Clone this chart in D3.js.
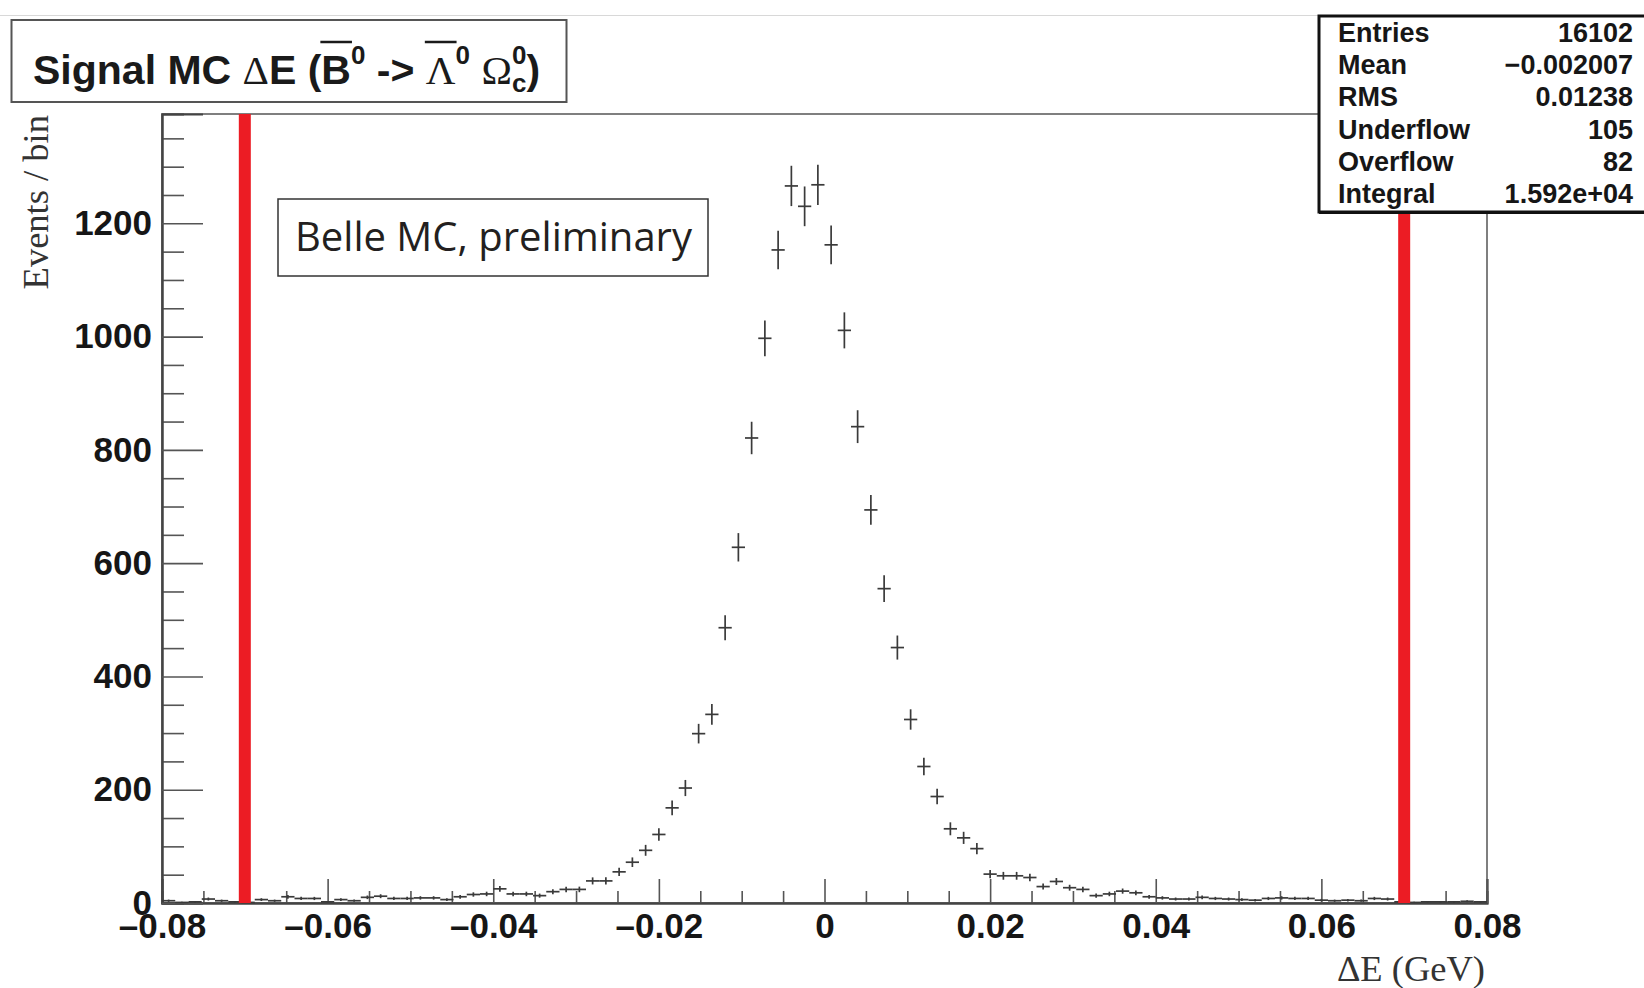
<!DOCTYPE html>
<html>
<head>
<meta charset="utf-8">
<script src="https://cdn.jsdelivr.net/npm/d3@7"></script>
<style>
  body { margin: 0; background: #fff; }
  svg { display: block; }
</style>
</head>
<body>
<svg id="chart" width="1644" height="988"></svg>
<script>
const binStart = -0.08;
const binWidth = 0.0016;
const counts = [
    4, 1, 2, 7, 4, 2, 1, 6, 4, 11,
    8, 8, 2, 6, 4, 10, 12, 8, 8, 9,
    9, 6, 11, 15, 16, 25, 16, 16, 13, 20,
    24, 24, 39, 39, 55, 72, 93, 121, 168, 203,
    299, 333, 486, 628, 821, 997, 1153, 1266, 1230, 1268,
    1162, 1011, 841, 694, 555, 451, 324, 241, 188, 131,
    115, 96, 51, 48, 48, 45, 29, 38, 27, 24,
    13, 16, 21, 18, 11, 9, 7, 7, 10, 8,
    7, 6, 5, 8, 9, 8, 8, 5, 4, 5,
    4, 8, 7, 2, 1, 2, 2, 2, 3, 2
];
const cutValues = [-0.07, 0.07];
const xMajor = [-0.08, -0.06, -0.04, -0.02, 0, 0.02, 0.04, 0.06, 0.08];
const yMajor = [0, 200, 400, 600, 800, 1000, 1200];
const statLabels = ['Entries', 'Mean', 'RMS', 'Underflow', 'Overflow', 'Integral'];
const statValues = ['16102', '\u22120.002007', '0.01238', '105', '82', '1.592e+04'];

const svg = d3.select('#chart');
const frame = { left: 162, right: 1487, top: 114, bottom: 903 };
const sans = '"Liberation Sans", Arial, Helvetica, sans-serif';
const serif = '"Liberation Serif", "Times New Roman", serif';

svg.append('rect').attr('width', 1644).attr('height', 988).attr('fill', '#fff');
svg.append('line')
    .attr('x1', 0).attr('x2', 1644).attr('y1', 15.5).attr('y2', 15.5)
    .attr('stroke', '#d8d8d8').attr('stroke-width', 1);

// ---- Escalas
const mapX = d3.scaleLinear().domain([-0.08, 0.08]).range([frame.left, frame.right]);
const mapY = d3.scaleLinear().domain([0, 1393]).range([frame.bottom, frame.top]);

// ---- Moldura
svg.append('rect')
    .attr('x', frame.left).attr('y', frame.top)
    .attr('width', frame.right - frame.left).attr('height', frame.bottom - frame.top)
    .attr('fill', 'none').attr('stroke', '#555').attr('stroke-width', 1.5);

// ---- Eixos
const xMinor = d3.range(-0.08, 0.0801, 0.005).filter(v => xMajor.every(m => Math.abs(m - v) > 1e-6));
const yMinor = d3.range(0, 1393, 50).filter(v => v % 200 !== 0);
const fmtX = d => Math.abs(d) < 1e-9 ? '0' : (d < 0 ? '\u2013' : '') + Math.abs(d).toFixed(2);

svg.append('g')
    .attr('transform', `translate(0, ${frame.bottom})`)
    .call(d3.axisBottom(mapX).tickValues(xMinor).tickSize(-12).tickFormat(''));
svg.append('g')
    .attr('class', 'xaxis')
    .attr('transform', `translate(0, ${frame.bottom})`)
    .call(d3.axisBottom(mapX).tickValues(xMajor).tickSize(-24).tickPadding(10).tickFormat(fmtX));

svg.append('g')
    .attr('transform', `translate(${frame.left}, 0)`)
    .call(d3.axisLeft(mapY).tickValues(yMinor).tickSize(-22).tickFormat(''));
svg.append('g')
    .attr('class', 'yaxis')
    .attr('transform', `translate(${frame.left}, 0)`)
    .call(d3.axisLeft(mapY).tickValues(yMajor).tickSize(-41).tickPadding(10).tickFormat(d3.format('d')));

svg.selectAll('.domain').attr('stroke', '#444').attr('stroke-width', 2);
svg.selectAll('.tick line').attr('stroke', '#555').attr('stroke-width', 1.6);
svg.selectAll('.xaxis text, .yaxis text')
    .attr('font-family', sans).attr('font-weight', 'bold')
    .attr('font-size', 35).attr('fill', '#161616');

// ---- Histograma (barras de erro)
const bins = counts.map((c, i) => ({
    lo: binStart + i * binWidth,
    hi: binStart + (i + 1) * binWidth,
    mid: binStart + (i + 0.5) * binWidth,
    n: c
}));
const hist = svg.append('g').attr('stroke', '#3a3a3a').attr('stroke-width', 1.7);
hist.selectAll('line.h').data(bins).join('line')
    .attr('class', 'h')
    .attr('x1', d => mapX(d.lo)).attr('x2', d => mapX(d.hi))
    .attr('y1', d => mapY(d.n)).attr('y2', d => mapY(d.n));
hist.selectAll('line.v').data(bins).join('line')
    .attr('class', 'v')
    .attr('x1', d => mapX(d.mid)).attr('x2', d => mapX(d.mid))
    .attr('y1', d => mapY(Math.max(0, d.n - Math.sqrt(d.n))))
    .attr('y2', d => mapY(d.n + Math.sqrt(d.n)));

// ---- Linhas de corte
svg.selectAll('rect.cut').data(cutValues).join('rect')
    .attr('class', 'cut')
    .attr('x', d => mapX(d) - 6).attr('width', 12)
    .attr('y', frame.top).attr('height', frame.bottom - frame.top)
    .attr('fill', '#ec1c24');

// ---- Titulos dos eixos
svg.append('text')
    .attr('transform', 'translate(48, 115) rotate(-90)')
    .attr('text-anchor', 'end')
    .attr('font-family', serif).attr('font-size', 36.5).attr('fill', '#333')
    .text('Events / bin');
svg.append('text')
    .attr('x', 1485).attr('y', 981)
    .attr('text-anchor', 'end')
    .attr('font-family', serif).attr('font-size', 36.5).attr('fill', '#333')
    .text('\u0394E (GeV)');

// ---- Caixa do titulo
svg.append('rect')
    .attr('x', 11.5).attr('y', 20).attr('width', 555).attr('height', 82)
    .attr('fill', '#fff').attr('stroke', '#555').attr('stroke-width', 2);

const titleParts = [
    { t: 'Signal MC ', f: sans },
    { t: '\u0394', f: serif },
    { t: 'E (', f: sans },
    { t: 'B', f: sans, over: true },
    { t: '0', f: sans, sup: true },
    { t: ' -> ', f: sans },
    { t: '\u039B', f: serif, over: true },
    { t: '0', f: sans, sup: true },
    { t: ' ', f: sans },
    { t: '\u03A9', f: serif },
    { t: '0', f: sans, sup: true, stack: 'c' },
    { t: ')', f: sans }
];
const tg = svg.append('g').attr('fill', '#1a1a1a').style('white-space', 'pre');
const base = 84;
let cx = 33;
titleParts.forEach(p => {
    const size = p.sup ? 26 : 41;
    const y = p.sup ? base - 20 : base;
    const t = tg.append('text')
        .attr('x', cx).attr('y', y)
        .attr('xml:space', 'preserve')
        .style('white-space', 'pre')
        .attr('font-family', p.f).attr('font-weight', p.f === sans ? 'bold' : 'normal')
        .attr('font-size', size).text(p.t);
    let w = t.node().getComputedTextLength();
    if (p.stack) {
        const s = tg.append('text')
            .attr('x', cx).attr('y', base + 8)
            .attr('font-family', sans).attr('font-weight', 'bold')
            .attr('font-size', 26).text(p.stack);
        w = Math.max(w, s.node().getComputedTextLength());
    }
    if (p.over) {
        tg.append('line')
            .attr('x1', cx - 1).attr('x2', cx + w + 1)
            .attr('y1', 42).attr('y2', 42)
            .attr('stroke', '#1a1a1a').attr('stroke-width', 2.5);
    }
    cx += w;
});

// ---- Legenda Belle
svg.append('rect')
    .attr('x', 278).attr('y', 199).attr('width', 430).attr('height', 77)
    .attr('fill', '#fff').attr('stroke', '#333').attr('stroke-width', 1.5);
svg.append('text')
    .attr('x', 295).attr('y', 251)
    .attr('font-family', '"Open Sans", "Noto Sans", sans-serif')
    .attr('font-size', 40).attr('fill', '#231f20')
    .attr('textLength', 397).attr('lengthAdjust', 'spacingAndGlyphs')
    .text('Belle MC, preliminary');

// ---- Caixa de estatisticas
const stats = svg.append('g');
stats.append('rect')
    .attr('x', 1319).attr('y', 16).attr('width', 340).attr('height', 196)
    .attr('fill', '#fff').attr('stroke', '#111').attr('stroke-width', 3);
stats.append('line')
    .attr('x1', 1319).attr('x2', 1644).attr('y1', 213).attr('y2', 213)
    .attr('stroke', '#111').attr('stroke-width', 2);
stats.selectAll('text.lab').data(statLabels).join('text')
    .attr('class', 'lab')
    .attr('x', 1338).attr('y', (d, i) => 42 + i * 32.2)
    .attr('font-family', sans).attr('font-weight', 'bold').attr('font-size', 27)
    .attr('fill', '#161616').text(d => d);
stats.selectAll('text.val').data(statValues).join('text')
    .attr('class', 'val')
    .attr('x', 1633).attr('y', (d, i) => 42 + i * 32.2)
    .attr('text-anchor', 'end')
    .attr('font-family', sans).attr('font-weight', 'bold').attr('font-size', 27)
    .attr('fill', '#161616').text(d => d);
</script>
</body>
</html>
